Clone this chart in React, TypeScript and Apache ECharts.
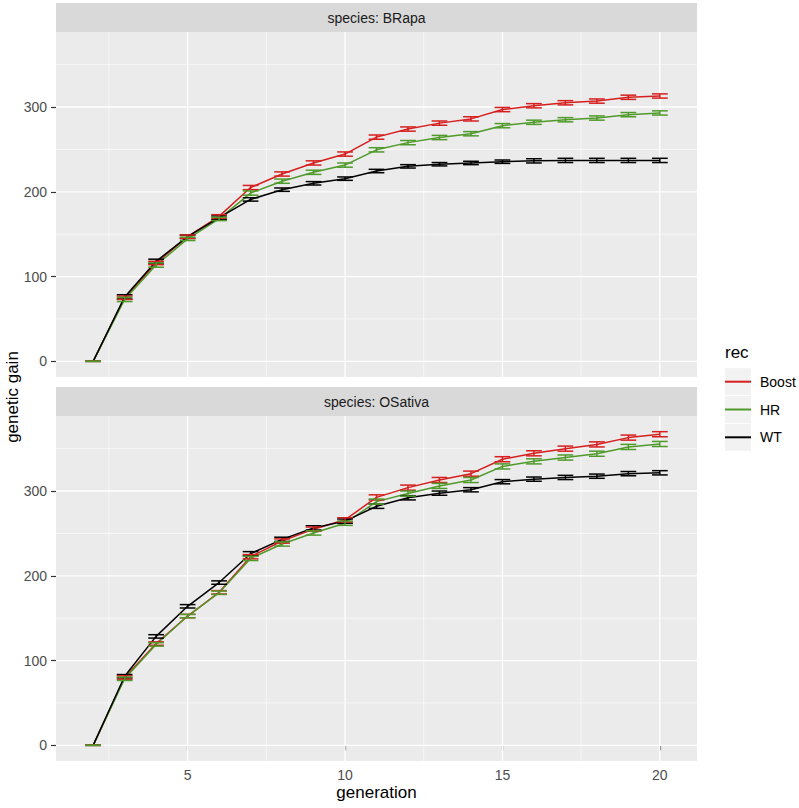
import React, { useEffect, useRef } from "react";
import * as echarts from "echarts";

const generations = [2, 3, 4, 5, 6, 7, 8, 9, 10, 11, 12, 13, 14, 15, 16, 17, 18, 19, 20];
const recNames = ["Boost", "HR", "WT"];
const recColors = ["#d61f1f", "#4f9a2a", "#000000"];
const speciesNames = ["BRapa", "OSativa"];

const brapaBoost = [0, 75, 116, 147, 171, 205, 221, 234, 244.5, 264.5, 274, 281, 286, 297, 301.5, 305, 307, 311.5, 313];
const brapaHR = [0, 73, 113.5, 144.5, 168, 198.5, 212.5, 223, 231.5, 249.5, 258, 264, 268.5, 278, 282, 285, 287, 291, 293];
const brapaWT = [0, 76, 118, 147, 169.5, 191, 202.5, 210, 215.5, 224.5, 230, 232.5, 234, 235.5, 236.5, 237, 237, 237, 237];
const brapaBoostSE = [0, 2, 2, 2, 2, 2.5, 2.5, 2.5, 2.5, 2.5, 2.5, 2.5, 2.5, 2.5, 2.5, 2.5, 2.5, 2.5, 2.5];
const brapaHRSE = [0, 2.5, 2.5, 2, 2, 2.5, 2.5, 2.5, 2.5, 2.5, 2.5, 2.5, 2.5, 2.5, 2.5, 2.5, 2.5, 2.5, 2.5];
const brapaWTSE = [0, 2.5, 2.5, 2, 2, 2, 2, 2, 2, 2, 2, 2, 2, 2, 2.5, 2.5, 2.5, 2.5, 2.5];

const osativaBoost = [0, 80, 120, 152.5, 180.5, 222.5, 241, 255, 266, 292.5, 304, 313, 320.5, 337.5, 344.5, 350, 355, 363, 367];
const osativaHR = [0, 78.5, 119, 152.5, 180, 220.5, 237.5, 250.5, 262, 287.5, 297, 306, 313, 329, 335, 339.5, 344, 352, 355.5];
const osativaWT = [0, 81.5, 128.5, 164, 192, 226, 243, 256.5, 264.5, 282, 292, 297.5, 301.5, 311, 314, 316, 317.5, 320.5, 321.5];
const osativaBoostSE = [0, 2, 2, 2, 2, 2.5, 2.5, 2.5, 2.5, 3, 3, 3, 3, 3, 3, 3, 3, 3, 3];
const osativaHRSE = [0, 2, 2, 2, 2, 2.5, 2.5, 2.5, 2.5, 3, 3, 3, 3, 3, 3, 3, 3, 3, 3];
const osativaWTSE = [0, 2, 2, 2, 2, 2.5, 2.5, 2.5, 2.5, 2.5, 2.5, 2.5, 2.5, 2.5, 2.5, 2.5, 2.5, 2.5, 2.5];

const xMajor = [5, 10, 15, 20];
const xMinor = [2.5, 7.5, 12.5, 17.5];
const yMajor = [0, 100, 200, 300];
const yMinor = [50, 150, 250, 350];

const FONT = "'Liberation Sans', Arial, Helvetica, sans-serif";

const panels = [
  { means: [brapaBoost, brapaHR, brapaWT], ses: [brapaBoostSE, brapaHRSE, brapaWTSE] },
  { means: [osativaBoost, osativaHR, osativaWT], ses: [osativaBoostSE, osativaHRSE, osativaWTSE] },
];

const GRID_LEFT = 56;
const GRID_W = 641;
const GRID_H = 345;
const GRID_TOPS = [32, 416];
const STRIP_H = 29;
const ERR_Z = [7, 8, 6];

export default function App() {
  const ref = useRef<HTMLDivElement>(null);
  useEffect(() => {
    document.body.style.margin = "0";
    if (!ref.current) return;
    const chart = echarts.init(ref.current, null, { renderer: "svg" });

    const gridLineData: number[][] = [];
    xMajor.forEach((v) => gridLineData.push([v, 0, 1, 1]));
    xMinor.forEach((v) => gridLineData.push([v, 0, 1, 0]));
    yMajor.forEach((v) => gridLineData.push([10, v, 0, 1]));
    yMinor.forEach((v) => gridLineData.push([10, v, 0, 0]));

    const series: any[] = [];
    panels.forEach((panel, pi) => {
      series.push({
        type: "custom",
        name: "grid" + pi,
        xAxisIndex: pi,
        yAxisIndex: pi,
        z: 1,
        silent: true,
        encode: { x: 0, y: 1 },
        data: gridLineData,
        renderItem: (params: any, api: any) => {
          const cs = params.coordSys;
          const isX = api.value(2);
          const major = api.value(3);
          const lw = major ? 1.3 : 0.6;
          if (isX) {
            const p = api.coord([api.value(0), 0]);
            return {
              type: "line",
              shape: { x1: p[0], y1: cs.y, x2: p[0], y2: cs.y + cs.height },
              style: { stroke: "#ffffff", lineWidth: lw },
            };
          }
          const p = api.coord([10, api.value(1)]);
          return {
            type: "line",
            shape: { x1: cs.x, y1: p[1], x2: cs.x + cs.width, y2: p[1] },
            style: { stroke: "#ffffff", lineWidth: lw },
          };
        },
      });
      recNames.forEach((name, ri) => {
        series.push({
          type: "line",
          name,
          xAxisIndex: pi,
          yAxisIndex: pi,
          z: 3 + ri,
          symbol: "none",
          lineStyle: { color: recColors[ri], width: 1.5 },
          itemStyle: { color: recColors[ri] },
          data: generations.map((g, i) => [g, panel.means[ri][i]]),
        });
      });
      recNames.forEach((name, ri) => {
        const color = recColors[ri];
        series.push({
          type: "custom",
          name,
          xAxisIndex: pi,
          yAxisIndex: pi,
          z: ERR_Z[ri],
          encode: { x: 0, y: 1 },
          itemStyle: { color },
          data: generations.map((g, i) => [g, panel.means[ri][i], panel.ses[ri][i]]),
          renderItem: (params: any, api: any) => {
            const x = api.value(0);
            const m = api.value(1);
            const s = api.value(2);
            const top = api.coord([x, m + s]);
            const bot = api.coord([x, m - s]);
            const l = api.coord([x - 0.25, m])[0];
            const r = api.coord([x + 0.25, m])[0];
            const st = { stroke: color, lineWidth: 1.5 };
            return {
              type: "group",
              children: [
                { type: "line", shape: { x1: top[0], y1: top[1], x2: bot[0], y2: bot[1] }, style: st },
                { type: "line", shape: { x1: l, y1: top[1], x2: r, y2: top[1] }, style: st },
                { type: "line", shape: { x1: l, y1: bot[1], x2: r, y2: bot[1] }, style: st },
              ],
            };
          },
        });
      });
    });

    const graphic: any[] = [];
    speciesNames.forEach((sp, pi) => {
      const top = GRID_TOPS[pi] - STRIP_H;
      graphic.push({
        type: "rect",
        shape: { x: GRID_LEFT, y: top, width: GRID_W, height: STRIP_H },
        style: { fill: "#d9d9d9" },
        z: 0,
      });
      graphic.push({
        type: "text",
        x: GRID_LEFT + GRID_W / 2,
        y: top + STRIP_H / 2,
        style: {
          text: "species: " + sp,
          fill: "#1a1a1a",
          font: `14px ${FONT}`,
          textAlign: "center",
          textVerticalAlign: "middle",
        },
        z: 1,
      });
    });
    graphic.push({
      type: "text",
      x: 12,
      y: 397,
      rotation: Math.PI / 2,
      style: {
        text: "genetic gain",
        fill: "#000000",
        font: `17px ${FONT}`,
        textAlign: "center",
        textVerticalAlign: "middle",
      },
    });
    graphic.push({
      type: "text",
      x: 725,
      y: 352,
      style: {
        text: "rec",
        fill: "#000000",
        font: `normal 17px ${FONT}`,
        textAlign: "left",
        textVerticalAlign: "middle",
      },
    });
    const keyCenters = [381.7, 409.5, 437.3];
    keyCenters.forEach((c) => {
      graphic.push({
        type: "rect",
        shape: { x: 725, y: c - 13.5, width: 26, height: 27 },
        style: { fill: "#f2f2f2" },
        z: 0,
      });
    });

    const xAxes = GRID_TOPS.map((_, pi) => ({
      type: "value",
      gridIndex: pi,
      min: 0.82,
      max: 21.18,
      splitLine: { show: false },
      axisLine: { show: false },
      axisTick: {
        show: pi === 1,
        customValues: xMajor,
        length: 5,
        lineStyle: { color: "#333333", width: 1.2 },
      },
      axisLabel: {
        show: pi === 1,
        customValues: xMajor,
        margin: 7,
        color: "#4d4d4d",
        fontSize: 14,
        fontFamily: FONT,
      },
      name: pi === 1 ? "generation" : "",
      nameLocation: "middle",
      nameGap: 23,
      nameTextStyle: { color: "#000000", fontSize: 17, fontFamily: FONT },
    }));
    const yAxes = GRID_TOPS.map((_, pi) => ({
      type: "value",
      gridIndex: pi,
      min: -18.5,
      max: 388.5,
      splitLine: { show: false },
      axisLine: { show: false },
      axisTick: {
        show: true,
        customValues: yMajor,
        length: 5,
        lineStyle: { color: "#333333", width: 1.2 },
      },
      axisLabel: {
        customValues: yMajor,
        margin: 9,
        color: "#4d4d4d",
        fontSize: 14,
        fontFamily: FONT,
      },
    }));

    chart.setOption({
      animation: false,
      textStyle: { fontFamily: FONT },
      grid: GRID_TOPS.map((t) => ({
        left: GRID_LEFT,
        top: t,
        width: GRID_W,
        height: GRID_H,
        show: true,
        backgroundColor: "#ebebeb",
        borderWidth: 0,
      })),
      xAxis: xAxes,
      yAxis: yAxes,
      legend: {
        orient: "vertical",
        left: 720,
        top: 369.2,
        itemWidth: 26,
        itemHeight: 2,
        itemGap: 12.8,
        icon: "rect",
        selectedMode: false,
        data: recNames.map((n, i) => ({ name: n, itemStyle: { color: recColors[i] } })),
        textStyle: { color: "#000000", fontSize: 14, fontFamily: FONT, lineHeight: 15, padding: [0, 0, 0, 4] },
        z: 5,
      },
      graphic,
      series,
    });
    return () => chart.dispose();
  }, []);
  return <div ref={ref} style={{ width: 799, height: 808 }} />;
}
